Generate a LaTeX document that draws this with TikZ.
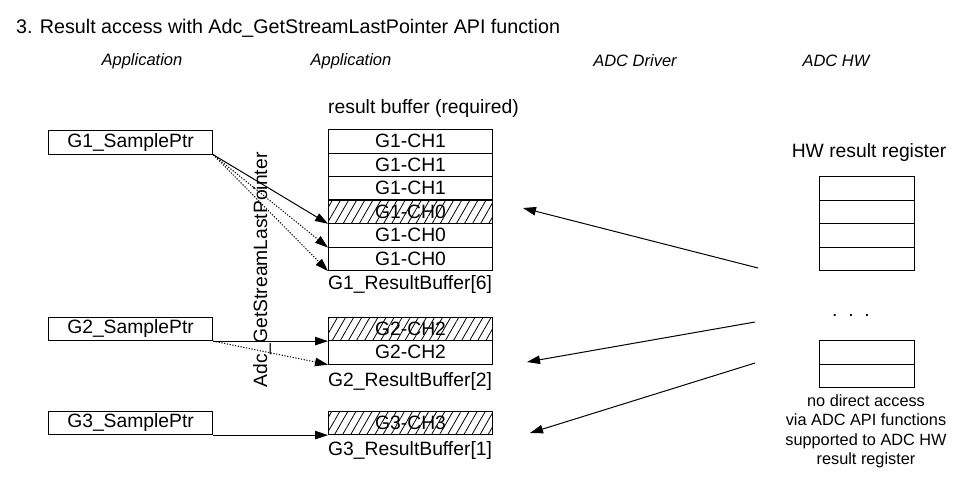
\documentclass[tikz,border=0pt]{standalone}
\usepackage{fontspec}
\setmainfont{Liberation Sans}
\usetikzlibrary{arrows.meta,patterns.meta}
\newcommand\bodyfont{\fontsize{19.3}{22}\selectfont}
\newcommand\titlefont{\fontsize{19.7}{22}\selectfont}
\newcommand\hdrfont{\fontsize{16.5}{19}\selectfont\itshape}
\newcommand\notefont{\fontsize{16.3}{19.5}\selectfont}
\begin{document}
\begin{tikzpicture}[x=1pt,y=-1pt,
  cell/.style={draw, line width=1.1pt, minimum width=164pt, minimum height=23.5pt, inner sep=0pt, anchor=north west, font=\bodyfont},
  hwcell/.style={draw, line width=1.1pt, minimum width=95pt, minimum height=23.5pt, inner sep=0pt, anchor=north west},
  hatched/.style={pattern={Lines[angle=60,distance=7pt,line width=0.8pt]}},
  lbl/.style={inner sep=0pt, font=\bodyfont},
  hdr/.style={inner sep=0pt, font=\hdrfont},
  arr/.style={-{Triangle[length=13pt,width=8.5pt]}, line width=1pt},
  dotarr/.style={arr, dash pattern=on 1.2pt off 1.6pt},
]
\useasboundingbox (0,0) rectangle (961,482);

% title and headers
\node[inner sep=0pt, font=\titlefont, anchor=base west] (title) at (16,33) {3. Result access with Adc\_GetStreamLastPointer API function};
\node[hdr] (h1) at (142,61) {Application};
\node[hdr] (h2) at (351,61) {Application};
\node[hdr] (h3) at (635,61) {ADC Driver};
\node[hdr] (h4) at (836,61) {ADC HW};

% pointers
\node[cell] (g1ptr) at (48,130) {G1\_SamplePtr};
\node[cell] (g2ptr) at (48,316.5) {G2\_SamplePtr};
\node[cell] (g3ptr) at (48,410.5) {G3\_SamplePtr};

% result buffers
\node[lbl, anchor=base west] (rbreq) at (328,113) {result buffer (required)};
\node[cell] (g1c1) at (328,129) {G1-CH1};
\node[cell] (g1c2) at (328,152.5) {G1-CH1};
\node[cell] (g1c3) at (328,176) {G1-CH1};
\node[cell, hatched] (g1c4) at (328,199.5) {G1-CH0};
\node[cell] (g1c5) at (328,223) {G1-CH0};
\node[cell] (g1c6) at (328,246.5) {G1-CH0};
\node[lbl, anchor=base west] (g1lbl) at (328,289) {G1\_ResultBuffer[6]};

\node[cell, hatched] (g2c1) at (328,316.5) {G2-CH2};
\node[cell] (g2c2) at (328,340) {G2-CH2};
\node[lbl, anchor=base west] (g2lbl) at (328,386) {G2\_ResultBuffer[2]};

\node[cell, hatched] (g3c1) at (328,410.5) {G3-CH3};
\node[lbl, anchor=base west] (g3lbl) at (328,455) {G3\_ResultBuffer[1]};

% API label
\node[lbl, rotate=90] (api) at (262,270) {Adc\_GetStreamLastPointer};

% HW register
\node[lbl, anchor=base] (hwlbl) at (869,157) {HW result register};
\node[hwcell] (hw1) at (819,176) {};
\node[hwcell] (hw2) at (819,199.5) {};
\node[hwcell] (hw3) at (819,223) {};
\node[hwcell] (hw4) at (819,246.5) {};
\node[lbl, anchor=base] (dots) at (851,316) {.\ \ .\ \ .};
\node[hwcell] (hw5) at (819,340) {};
\node[hwcell] (hw6) at (819,363.5) {};
\node[inner sep=0pt, anchor=north, align=center, font=\notefont] (note) at (866,394)
  {no direct access\\via ADC API functions\\supported to ADC HW\\result register};

% pointer connectors
\draw[arr] (g1ptr.south east) -- (g1c4.south west);
\draw[dotarr] (g1ptr.south east) -- (g1c5.south west);
\draw[dotarr] (g1ptr.south east) -- (g1c6.south west);
\draw[arr] (g2ptr.south east) -- (g2c1.south west);
\draw[dotarr] (g2ptr.south east) -- (g2c2.south west);
\draw[arr] (g3ptr.south east) -- (g3c1.south west);

% HW connectors
\coordinate (r1s) at (758,268);
\coordinate (r1e) at (523,208);
\coordinate (r2s) at (755,322);
\coordinate (r2e) at (527,362);
\coordinate (r3s) at (755,363);
\coordinate (r3e) at (530,433);
\draw[arr] (r1s) -- (r1e);
\draw[arr] (r2s) -- (r2e);
\draw[arr] (r3s) -- (r3e);
\end{tikzpicture}
\end{document}
